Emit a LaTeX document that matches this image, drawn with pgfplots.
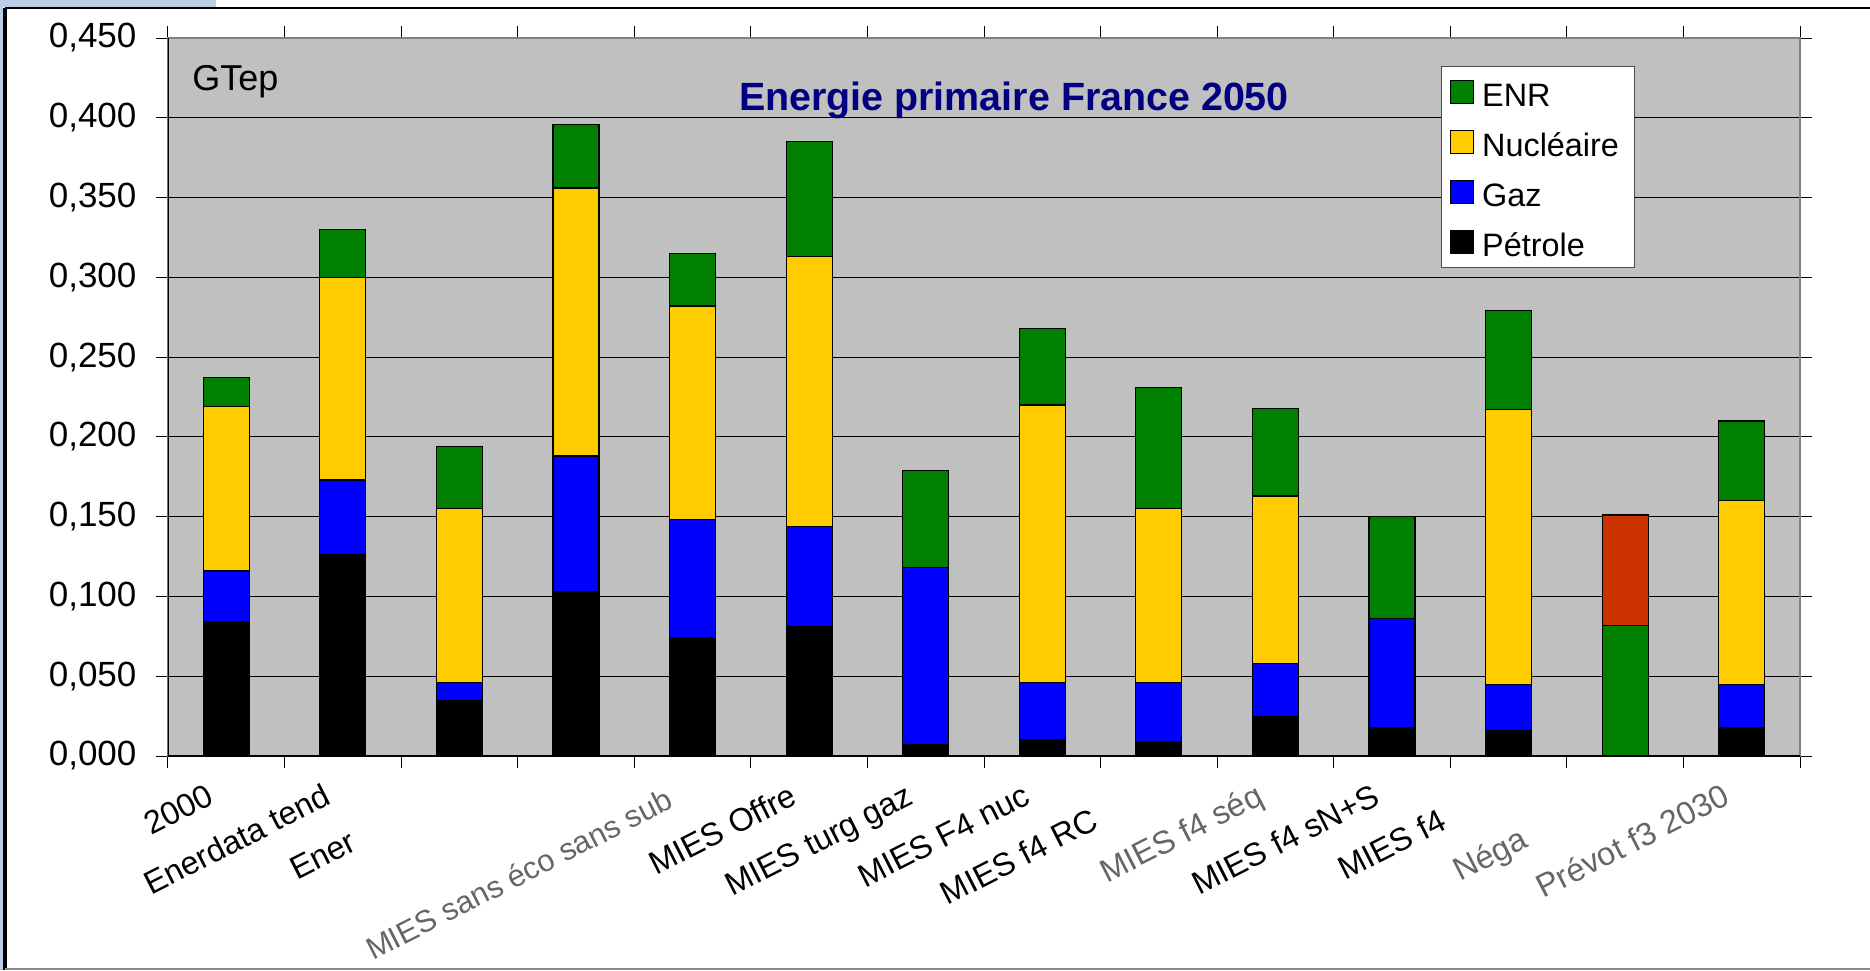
\documentclass[border=0pt]{standalone}
\usepackage{fontspec}
\setmainfont{Liberation Sans}
\usepackage{pgfplots}
\usepackage{pgfplotstable}
\pgfplotsset{compat=1.18}
\definecolor{enr}{RGB}{0,128,0}
\definecolor{nuc}{RGB}{255,204,0}
\definecolor{gaz}{RGB}{0,0,255}
\definecolor{neg}{RGB}{204,51,0}
\definecolor{plotbg}{RGB}{192,192,192}
\definecolor{titlec}{RGB}{0,0,128}
\definecolor{slide}{RGB}{185,205,229}
\pgfplotstableread{
x pet gaz nuc enr neg
0 0.084 0.032 0.103 0.018 0
1 0.126 0.047 0.127 0.030 0
2 0.035 0.011 0.109 0.039 0
3 0.103 0.085 0.168 0.040 0
4 0.074 0.074 0.134 0.033 0
5 0.081 0.063 0.169 0.072 0
6 0.007 0.111 0 0.061 0
7 0.010 0.036 0.174 0.048 0
8 0.009 0.037 0.109 0.076 0
9 0.025 0.033 0.105 0.055 0
10 0.018 0.068 0 0.064 0
11 0.016 0.029 0.172 0.062 0
12 0 0 0 0.082 0.069
13 0.018 0.027 0.115 0.050 0
}\data
\begin{document}
\begin{tikzpicture}
\useasboundingbox (0pt,0pt) rectangle (935pt,-485pt);
\fill[white] (0pt,0pt) rectangle (935pt,-485pt);
\fill[slide] (0pt,0pt) rectangle (108pt,-3.7pt);
\fill[slide] (0pt,0pt) rectangle (1.7pt,-485pt);
\draw[black, line width=1pt] (2.5pt,-4.2pt) -- (935pt,-4.2pt);
\draw[black, line width=1.7pt] (2.5pt,-485pt) -- (2.5pt,-4.2pt);
\draw[black!45, line width=1pt] (2.5pt,-484.3pt) -- (935pt,-484.3pt);
\begin{axis}[
  at={(84pt,-378pt)}, anchor=south west,
  scale only axis, width=816pt, height=359pt,
  ybar stacked, bar width=23pt,
  xmin=-0.5, xmax=13.5, ymin=0, ymax=0.45,
  axis background/.style={fill=plotbg},
  axis line style={draw=black!50, line width=0.6pt},
  ymajorgrids, grid style={black, line width=0.5pt},
  tick align=outside, major tick length=6pt,
  tick style={black, line width=0.5pt},
  ytick={0,0.05,0.1,0.15,0.2,0.25,0.3,0.35,0.4,0.45},
  yticklabel style={font=\fontsize{17.5}{20}\selectfont, inner sep=0pt, xshift=-9.6pt,
    /pgf/number format/fixed, /pgf/number format/fixed zerofill, /pgf/number format/precision=3,
    /pgf/number format/use comma, /pgf/number format/assume math mode=true},
  xtick={-0.5,0.5,1.5,2.5,3.5,4.5,5.5,6.5,7.5,8.5,9.5,10.5,11.5,12.5,13.5},
  xticklabels={{},{},{},{},{},{},{},{},{},{},{},{},{},{},{}},
  extra x ticks={0,1,2,3,4,5,6,7,8,9,10,11,12,13},
  extra x tick style={major tick length=0pt, tick style={draw=none},
    xticklabel style={font=\fontsize{16.2}{19}\selectfont, inner sep=0pt, xshift=-5pt, yshift=-23.5pt, rotate=27, anchor=base east}},
  extra x tick labels={2000, Enerdata tend, {Ener\hspace*{51pt}}, {}, {\color{black!60}\fontsize{15.4}{18}\selectfont MIES sans éco sans sub\hspace*{4pt}}, MIES Offre, MIES turg gaz, MIES F4 nuc, {MIES f4 RC\hspace*{27pt}}, {\color{black!60}MIES f4 séq}, MIES f4 sN+S, {MIES f4\hspace*{28pt}}, {\color{black!60}Néga\hspace*{48pt}}, {\color{black!60}Prévot f3 2030}},
  legend style={at={(0.7798,0.961)}, anchor=north west, draw=black!70, fill=white, line width=0.5pt,
    font=\fontsize{16.2}{19}\selectfont, inner xsep=4.5pt, inner ysep=2pt, row sep=3.5pt,
    nodes={text height=15pt, text depth=0.5pt, inner sep=3pt},
    /tikz/every odd column/.append style={column sep=1.2pt}},
  legend cell align=left,
  legend image code/.code={\draw[#1, draw=black, line width=0.5pt] (0pt,-5.6pt) rectangle (11.3pt,5.6pt);},
  reverse legend,
]
\addplot[fill=black, draw=black, line width=0.6pt] table[x=x, y=pet] {\data};
\addlegendentry{Pétrole}
\addplot[fill=gaz, draw=black, line width=0.6pt] table[x=x, y=gaz] {\data};
\addlegendentry{Gaz}
\addplot[fill=nuc, draw=black, line width=0.6pt] table[x=x, y=nuc] {\data};
\addlegendentry{Nucléaire}
\addplot[fill=enr, draw=black, line width=0.6pt] table[x=x, y=enr] {\data};
\addlegendentry{ENR}
\addplot[fill=neg, draw=black, line width=0.6pt, forget plot] table[x=x, y=neg] {\data};
\draw[black, line width=0.6pt] (rel axis cs:0,1) -- (rel axis cs:0,0) -- (rel axis cs:1,0);
\end{axis}
\node[anchor=base, inner sep=0pt, font=\fontsize{19.7}{24}\selectfont\bfseries, text=titlec] at (507pt,-55pt) {Energie primaire France 2050};
\node[anchor=base west, inner sep=0pt, font=\fontsize{18}{22}\selectfont] at (96pt,-45pt) {GTep};
\end{tikzpicture}
\end{document}
